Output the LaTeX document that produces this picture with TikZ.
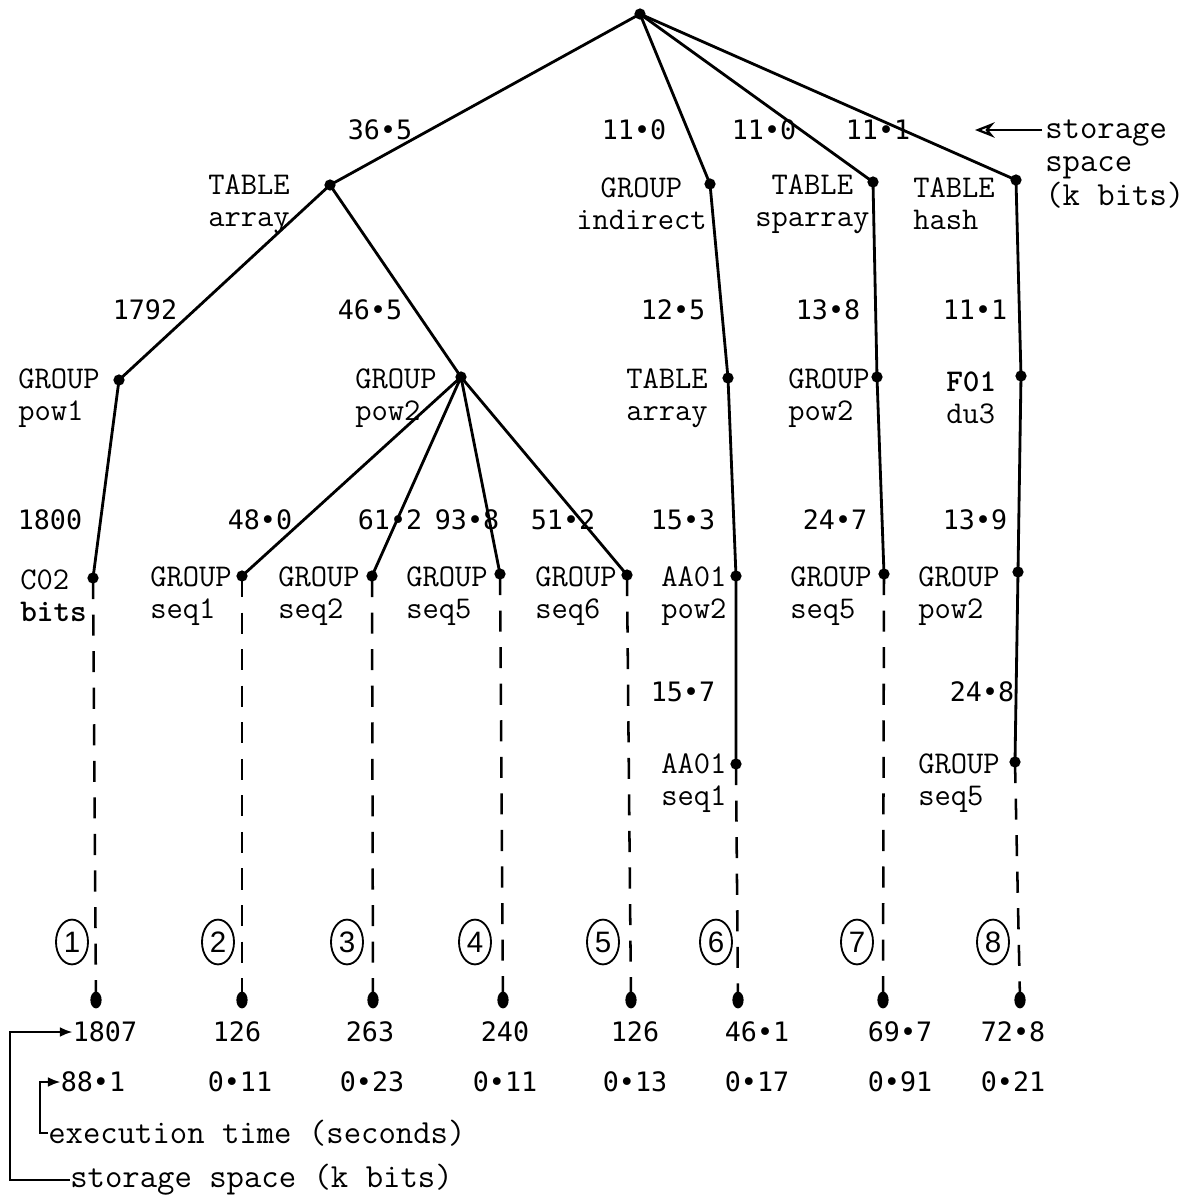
\documentclass[tikz,border=0pt]{standalone}
\usepackage{fontspec}
\newfontfamily\numfont{DejaVu Sans Mono}
\newfontfamily\handfont{Liberation Sans}
\usetikzlibrary{shapes.geometric,arrows.meta}
\begin{document}
\begin{tikzpicture}[x=0.025cm,y=-0.025cm,
  edge/.style={line width=2pt},
  dashedge/.style={line width=1.8pt, dash pattern=on 15pt off 11pt},
  lbl/.style={font=\ttfamily\fontsize{22.5}{23}\selectfont, align=left, inner sep=0pt, anchor=west},
  lblc/.style={font=\ttfamily\fontsize{22.5}{23}\selectfont, align=center, inner sep=0pt, anchor=west},
  leg/.style={font=\ttfamily\fontsize{24}{24}\selectfont, align=left, inner sep=0pt, anchor=west},
  num/.style={font=\numfont\fontsize{19}{22}\selectfont, inner sep=0pt},
  circ/.style={draw, ellipse, line width=1.3pt, minimum width=0.8cm, minimum height=1.12cm, inner sep=0pt, font=\handfont\fontsize{21}{22}\selectfont},
  tip/.style={-{Latex[length=9pt,width=7pt]}, line width=1.6pt}]
\useasboundingbox (0,0) rectangle (1199,1197);
% tree vertices
\coordinate (root) at (640,14);
\coordinate (ta) at (330,185);
\coordinate (gi) at (710,184);
\coordinate (ts) at (873,182);
\coordinate (th) at (1016,180);
\coordinate (gp1) at (119,380);
\coordinate (gp2) at (461,377);
\coordinate (tar) at (728,378);
\coordinate (gpr) at (877,377);
\coordinate (f01) at (1021,376);
\coordinate (c02) at (93,578);
\coordinate (s1) at (242,576);
\coordinate (s2) at (372,576);
\coordinate (s5) at (500,574);
\coordinate (s6) at (627,575);
\coordinate (aap) at (736,576);
\coordinate (s5r) at (884,574);
\coordinate (gp8) at (1018,572);
\coordinate (aas) at (736,764);
\coordinate (s58) at (1015,762);
\coordinate (b1) at (96,1000);
\coordinate (b2) at (242,1000);
\coordinate (b3) at (373,1000);
\coordinate (b4) at (503,1000);
\coordinate (b5) at (631,1000);
\coordinate (b6) at (738,1000);
\coordinate (b7) at (883,1000);
\coordinate (b8) at (1020,1000);
% solid edges
\draw[edge] (root) -- (ta);
\draw[edge] (root) -- (gi);
\draw[edge] (root) -- (ts);
\draw[edge] (root) -- (th);
\draw[edge] (ta) -- (gp1);
\draw[edge] (ta) -- (gp2);
\draw[edge] (gp1) -- (c02);
\draw[edge] (gp2) -- (s1);
\draw[edge] (gp2) -- (s2);
\draw[edge] (gp2) -- (s5);
\draw[edge] (gp2) -- (s6);
\draw[edge] (gi) -- (tar) -- (aap) -- (aas);
\draw[edge] (ts) -- (gpr) -- (s5r);
\draw[edge] (th) -- (f01) -- (gp8) -- (s58);
% dashed edges
\draw[dashedge] (c02) -- (b1);
\draw[dashedge] (s1) -- (b2);
\draw[dashedge] (s2) -- (b3);
\draw[dashedge] (s5) -- (b4);
\draw[dashedge] (s6) -- (b5);
\draw[dashedge] (aas) -- (b6);
\draw[dashedge] (s5r) -- (b7);
\draw[dashedge] (s58) -- (b8);
% dots
\foreach \p in {root,ta,gi,ts,th,gp1,gp2,tar,gpr,f01,c02,s1,s2,s5,s6,aap,s5r,gp8,aas,s58}
  \fill (\p) circle[radius=4pt];
\foreach \p in {b1,b2,b3,b4,b5,b6,b7,b8}
  \fill (\p) ellipse[x radius=4pt, y radius=6pt];
% vertex labels
\node[lbl] (Lta) at (208,204) {TABLE\\array};
\node[lblc] (Lgi) at (576,204) {GROUP\\indirect};
\node[lblc] (Lts) at (755,204) {TABLE\\sparray};
\node[lbl] (Lth) at (913,204) {TABLE\\hash};
\node[lbl] (Lgp1) at (18,398) {GROUP\\pow1};
\node[lbl] (Lgp2) at (355,398) {GROUP\\pow2};
\node[lbl] (Ltar) at (626,398) {TABLE\\array};
\node[lbl] (Lgpr) at (788,398) {GROUP\\pow2};
\node[lbl] (Lf01) at (946,398) {\textbf{F01}\\du3};
\node[lbl] (Lc02) at (20,596) {C02\\\textbf{bits}};
\node[lbl] (Ls1) at (150,596) {GROUP\\seq1};
\node[lbl] (Ls2) at (278,596) {GROUP\\seq2};
\node[lbl] (Ls5) at (406,596) {GROUP\\seq5};
\node[lbl] (Ls6) at (535,596) {GROUP\\seq6};
\node[lbl] (Laap) at (661,596) {AA01\\pow2};
\node[lbl] (Ls5r) at (790,596) {GROUP\\seq5};
\node[lbl] (Lgp8) at (918,596) {GROUP\\pow2};
\node[lbl] (Laas) at (661,783) {AA01\\seq1};
\node[lbl] (Ls58) at (918,783) {GROUP\\seq5};
% edge values
\node[num] (n1) at (380,130) {36•5};
\node[num] (n2) at (634,130) {11•0};
\node[num] (n3) at (764,130) {11•0};
\node[num] (n4) at (878,130) {11•1};
\node[num] (n5) at (145,310) {1792};
\node[num] (n6) at (370,310) {46•5};
\node[num] (n7) at (673,310) {12•5};
\node[num] (n8) at (828,310) {13•8};
\node[num] (n9) at (975,310) {11•1};
\node[num] (n10) at (50,520) {1800};
\node[num] (n11) at (260,520) {48•0};
\node[num] (n12) at (390,520) {61•2};
\node[num] (n13) at (467,520) {93•8};
\node[num] (n14) at (563,520) {51•2};
\node[num] (n15) at (683,520) {15•3};
\node[num] (n16) at (835,520) {24•7};
\node[num] (n17) at (975,520) {13•9};
\node[num] (n18) at (683,692) {15•7};
\node[num] (n19) at (982,692) {24•8};
% storage space legend (top right)
\node[leg] (stor) at (1045,164) {storage\\space\\(k bits)};
\coordinate (storarr) at (975,130);
\draw[line width=1.6pt, -{Stealth[length=14pt,width=11pt,open]}] (1042,130) -- (storarr);
% circled case numbers
\node[circ] (c1) at (72,942) {1};
\node[circ] (c2) at (218,942) {2};
\node[circ] (c3) at (347,942) {3};
\node[circ] (c4) at (475,942) {4};
\node[circ] (c5) at (603,942) {5};
\node[circ] (c6) at (716,942) {6};
\node[circ] (c7) at (857,942) {7};
\node[circ] (c8) at (993,942) {8};
% results
\node[num] (r1) at (105,1032) {1807};
\node[num] (r2) at (237,1032) {126};
\node[num] (r3) at (370,1032) {263};
\node[num] (r4) at (505,1032) {240};
\node[num] (r5) at (635,1032) {126};
\node[num] (r6) at (757,1032) {46•1};
\node[num] (r7) at (900,1032) {69•7};
\node[num] (r8) at (1013,1032) {72•8};
\node[num] (t1) at (93,1082) {88•1};
\node[num] (t2) at (240,1082) {0•11};
\node[num] (t3) at (372,1082) {0•23};
\node[num] (t4) at (505,1082) {0•11};
\node[num] (t5) at (635,1082) {0•13};
\node[num] (t6) at (757,1082) {0•17};
\node[num] (t7) at (900,1082) {0•91};
\node[num] (t8) at (1013,1082) {0•21};
% bottom legend
\node[leg] (lexec) at (48,1133) {execution time (seconds)};
\node[leg] (lstor) at (70,1180) {storage space (k bits)};
\draw[tip] (lstor.west) -- (10,1180) -- (10,1032) -- (r1.west);
\draw[tip] (lexec.west) -- (40,1133) -- (40,1082) -- (t1.west);
\end{tikzpicture}
\end{document}
